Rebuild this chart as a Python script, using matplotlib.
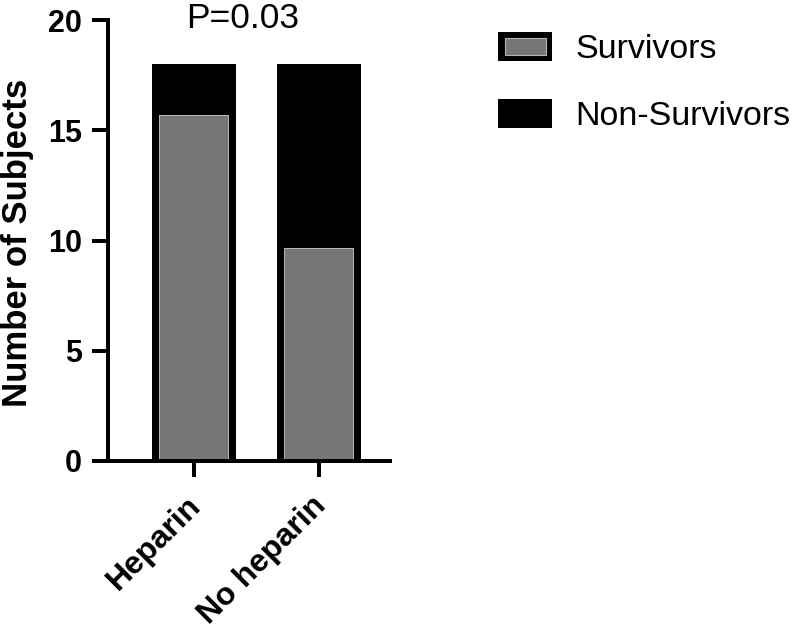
import matplotlib
matplotlib.use("Agg")
import matplotlib.pyplot as plt
from matplotlib.patches import Rectangle, Polygon
from matplotlib.legend_handler import HandlerBase

plt.rcParams['font.family'] = ['Liberation Sans', 'DejaVu Sans']

categories = ['Heparin', 'No heparin']
survivors = [16, 10]
non_survivors = [2, 8]
yticks = [0, 5, 10, 15, 20]
title_text = 'P=0.03'
ylabel_text = 'Number of Subjects'
legend_labels = ['Survivors', 'Non-Survivors']

GRAY = '#767676'
LIGHT = '#b4b4b4'
BLACK = '#000000'

W, H = 800, 631
fig = plt.figure(figsize=(W / 100, H / 100), dpi=100)
ax = fig.add_axes([108 / W, 1 - 461 / H, (390 - 108) / W, (461 - 20) / H])

x = list(range(len(categories)))
width = 0.672
px = 72 / 100  # points per pixel

bars_s = ax.bar(x, survivors, width, color=GRAY, edgecolor='none', zorder=2)
bars_n = ax.bar(x, non_survivors, width, bottom=survivors, color=BLACK,
                edgecolor='none', zorder=2)

for b in bars_s:
    x0, y0, w, h = b.get_x(), b.get_y(), b.get_width(), b.get_height()
    pts = [(x0, y0), (x0, y0 + h), (x0 + w, y0 + h), (x0 + w, y0)]
    for col, lw in [(LIGHT, 16 * px), (BLACK, 14 * px)]:
        p = Polygon(pts, closed=False, fill=False, edgecolor=col, linewidth=lw,
                    zorder=3, joinstyle='miter')
        ax.add_patch(p)
        p.set_clip_path(b)

ax.set_xlim(-0.688, 1.568)
ax.set_ylim(0, 20)
ax.set_yticks(yticks)
ax.set_xticks(x)
ax.set_xticklabels(categories, rotation=45, ha='right', va='center_baseline',
                   rotation_mode='anchor', fontsize=23, fontweight='bold')
for lab in ax.get_yticklabels():
    lab.set_fontsize(22)
    lab.set_fontweight('bold')

for s in ['top', 'right']:
    ax.spines[s].set_visible(False)
for s in ['left', 'bottom']:
    ax.spines[s].set_linewidth(4 * px)
    ax.spines[s].set_zorder(5)
ax.tick_params(axis='both', length=16 * px, width=4 * px)
ax.tick_params(axis='y', pad=10 * px)
ax.tick_params(axis='x', pad=22 * px)

ax.set_ylabel(ylabel_text, fontsize=25, fontweight='bold')
ax.yaxis.set_label_coords(-0.262, 0.494)

ax.text(0.479, (461 - 28) / 441, title_text, transform=ax.transAxes,
        ha='center', va='baseline', fontsize=25.5)


class SurvHandler(HandlerBase):
    def create_artists(self, legend, orig_handle, xdescent, ydescent, width,
                       height, fontsize, trans):
        outer = Rectangle((-xdescent, -ydescent), width, height,
                          facecolor=BLACK, edgecolor='none', transform=trans)
        ix = width * 0.12
        iy = height * 0.2
        inner = Rectangle((-xdescent + ix, -ydescent + iy), width - 2 * ix,
                          height - 2 * iy, facecolor=GRAY, edgecolor=LIGHT,
                          linewidth=0.8, transform=trans)
        return [outer, inner]


class NonHandler(HandlerBase):
    def create_artists(self, legend, orig_handle, xdescent, ydescent, width,
                       height, fontsize, trans):
        outer = Rectangle((-xdescent, -ydescent), width, height,
                          facecolor=BLACK, edgecolor='none', transform=trans)
        return [outer]


h1 = Rectangle((0, 0), 1, 1)
h2 = Rectangle((0, 0), 1, 1, facecolor='k')
leg = fig.legend([h1, h2], legend_labels,
                 handler_map={h1: SurvHandler(), h2: NonHandler()},
                 loc='upper left', bbox_to_anchor=(498 / W, 1 - 32 / H),
                 frameon=False, fontsize=24.5, handlelength=1.6, handleheight=0.93,
                 handletextpad=0.68, labelspacing=1.0, borderpad=0,
                 borderaxespad=0)

fig.savefig('out.png', dpi=100)
